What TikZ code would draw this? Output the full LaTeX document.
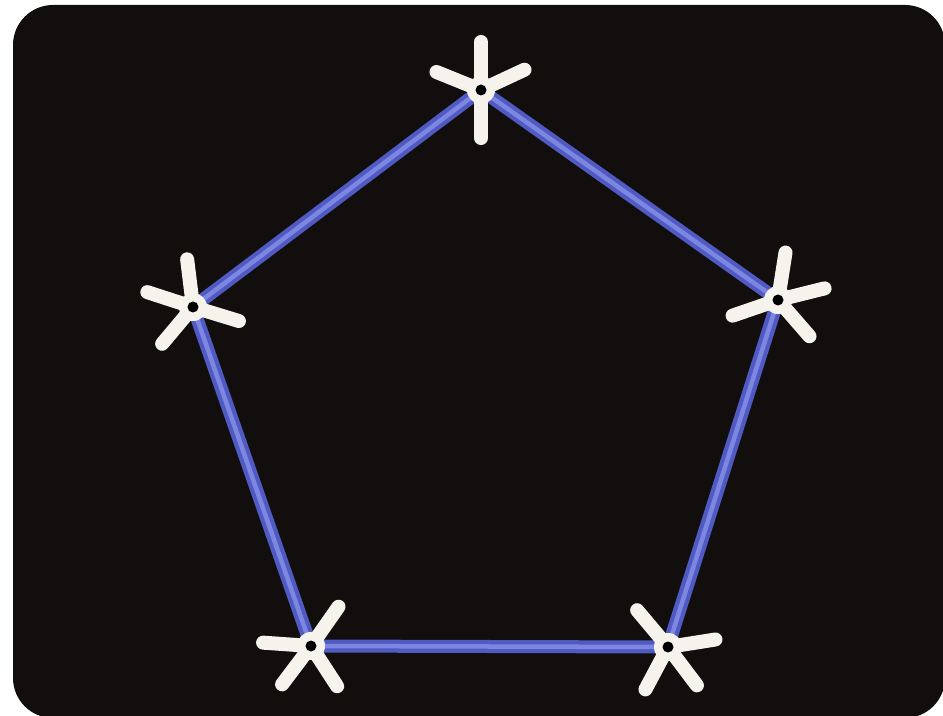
\documentclass[tikz,border=0pt]{standalone}
\usepackage{tikz}
\usetikzlibrary{positioning}
\definecolor{panelblack}{RGB}{19,14,14}
\definecolor{rodblue}{RGB}{80,90,195}
\definecolor{rodlight}{RGB}{125,135,225}
\definecolor{hubwhite}{RGB}{246,243,236}
\tikzset{
	panel/.style={fill=panelblack, rounded corners=0.4cm},
	vertex/.style={circle, inner sep=0pt, minimum size=0pt},
	rod/.style={draw=rodblue, line width=0.13cm, line cap=round},
	rodcore/.style={draw=rodlight, line width=0.045cm, line cap=round},
	arm/.style={draw=hubwhite, line width=0.14cm, line cap=round},
	hubring/.style={fill=hubwhite},
	hubhole/.style={fill=black}
}
%% one hub: white arms at given angles, dark hole in the middle
\newcommand{\hubarms}[2]{
	\foreach \a in {#2}
		\draw[arm] (#1.center) -- ++(\a:0.48cm);
	\fill[hubring] (#1.center) circle (0.14cm);
	\fill[hubhole] (#1.center) circle (0.055cm);
}

\begin{document}
\begin{tikzpicture}[x=0.01cm, y=-0.01cm]
	\useasboundingbox (0,0) rectangle (943,716);
	
	%% background panel
	\fill[panel] (13,5) rectangle (945,718);
	
	%% corners of the pentagon
	\node[vertex] (top) at (481,90) {};
	\node[vertex] (left) at (193,307) {};
	\node[vertex] (right) at (778,300) {};
	\node[vertex] (botleft) at (311,646) {};
	\node[vertex] (botright) at (668,647) {};
	
	%% rods
	\foreach \p/\q in {top/right, right/botright, botright/botleft, botleft/left, left/top}
	{
		\draw[rod] (\p.center) -- (\q.center);
		\draw[rodcore] (\p.center) -- (\q.center);
	}
	
	%% hubs
	\hubarms{top}{90,158,25,270}
	\hubarms{left}{97,162,-17,230}
	\hubarms{right}{81,14,199,-49}
	\hubarms{botleft}{176,55,233,-57}
	\hubarms{botright}{130,9,242,-53}
	
\end{tikzpicture}
\end{document}
